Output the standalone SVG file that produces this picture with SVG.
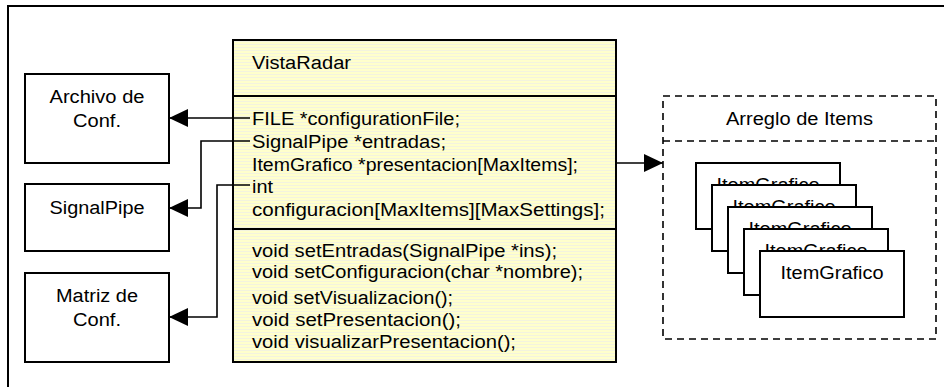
<svg xmlns="http://www.w3.org/2000/svg" width="944" height="387" viewBox="0 0 944 387">
<defs>
<pattern id="stripes" x="0" y="0" width="6" height="3" patternUnits="userSpaceOnUse">
<rect width="6" height="3" fill="#FFFFCC"/>
<rect y="2" width="6" height="1" fill="#F3F3DF"/>
</pattern>
<marker id="arr" viewBox="0 0 19 18" refX="19" refY="9" markerWidth="19" markerHeight="18" markerUnits="userSpaceOnUse" orient="auto">
<path d="M0,0 L19,9 L0,18 Z" fill="#000"/>
</marker>
</defs>
<style>
text{font-family:"Liberation Sans",Arial,sans-serif;font-size:18px;fill:#000}
.c{text-anchor:middle}
.box{fill:#fff;stroke:#000;stroke-width:2}
.cls{fill:url(#stripes);stroke:#000;stroke-width:2}
.sep{stroke:#000;stroke-width:2;fill:none}
.dash{fill:none;stroke:#000;stroke-width:1.6;stroke-dasharray:7 5}
.con{fill:none;stroke:#000;stroke-width:1.6}
</style>
<rect x="8" y="6" width="1000" height="500" fill="#fff" stroke="#000" stroke-width="2"/>

<g id="archivo">
<rect class="box" x="25" y="74" width="144" height="89"/>
<text class="c" x="97" y="103" textLength="95" lengthAdjust="spacingAndGlyphs">Archivo de</text>
<text class="c" x="97" y="127" textLength="48" lengthAdjust="spacingAndGlyphs">Conf.</text>
</g>
<g id="signalpipe">
<rect class="box" x="25" y="184" width="144" height="67"/>
<text class="c" x="97" y="214" textLength="95" lengthAdjust="spacingAndGlyphs">SignalPipe</text>
</g>
<g id="matriz">
<rect class="box" x="25" y="273" width="144" height="89"/>
<text class="c" x="97" y="302" textLength="82" lengthAdjust="spacingAndGlyphs">Matriz de</text>
<text class="c" x="97" y="326" textLength="48" lengthAdjust="spacingAndGlyphs">Conf.</text>
</g>

<g id="vistaradar">
<rect class="cls" x="233" y="40" width="383" height="322"/>
<line class="sep" x1="233" y1="96" x2="616" y2="96"/>
<line class="sep" x1="233" y1="229" x2="616" y2="229"/>
<text x="252" y="69" textLength="99" lengthAdjust="spacingAndGlyphs">VistaRadar</text>
<text x="252" y="125" textLength="208" lengthAdjust="spacingAndGlyphs">FILE *configurationFile;</text>
<text x="252" y="148" textLength="194" lengthAdjust="spacingAndGlyphs">SignalPipe *entradas;</text>
<text x="252" y="170.5" textLength="326" lengthAdjust="spacingAndGlyphs">ItemGrafico *presentacion[MaxItems];</text>
<text x="252" y="193" textLength="21" lengthAdjust="spacingAndGlyphs">int</text>
<text x="252" y="216" textLength="353" lengthAdjust="spacingAndGlyphs">configuracion[MaxItems][MaxSettings];</text>
<text x="252" y="257" textLength="305" lengthAdjust="spacingAndGlyphs">void setEntradas(SignalPipe *ins);</text>
<text x="252" y="278" textLength="331" lengthAdjust="spacingAndGlyphs">void setConfiguracion(char *nombre);</text>
<text x="252" y="304" textLength="201" lengthAdjust="spacingAndGlyphs">void setVisualizacion();</text>
<text x="252" y="326" textLength="209" lengthAdjust="spacingAndGlyphs">void setPresentacion();</text>
<text x="252" y="348" textLength="264" lengthAdjust="spacingAndGlyphs">void visualizarPresentacion();</text>
</g>

<g id="arreglo">
<rect class="dash" x="663" y="96" width="273" height="243"/>
<line class="dash" x1="663" y1="141" x2="936" y2="141"/>
<text class="c" x="799.5" y="125" textLength="147" lengthAdjust="spacingAndGlyphs">Arreglo de Items</text>
</g>
<g id="item1">
<rect class="box" x="696" y="163" width="144" height="66"/>
<text class="c" x="768" y="191" textLength="103" lengthAdjust="spacingAndGlyphs">ItemGrafico</text>
</g>
<g id="item2">
<rect class="box" x="712" y="185" width="144" height="66"/>
<text class="c" x="784" y="213" textLength="103" lengthAdjust="spacingAndGlyphs">ItemGrafico</text>
</g>
<g id="item3">
<rect class="box" x="728" y="207" width="144" height="66"/>
<text class="c" x="800" y="235" textLength="103" lengthAdjust="spacingAndGlyphs">ItemGrafico</text>
</g>
<g id="item4">
<rect class="box" x="744" y="229" width="144" height="66"/>
<text class="c" x="816" y="257" textLength="103" lengthAdjust="spacingAndGlyphs">ItemGrafico</text>
</g>
<g id="item5">
<rect class="box" x="760" y="251" width="144" height="66"/>
<text class="c" x="832" y="279" textLength="103" lengthAdjust="spacingAndGlyphs">ItemGrafico</text>
</g>

<g id="connectors">
<path class="con" d="M250,118 H169" marker-end="url(#arr)"/>
<path class="con" d="M250,141 H201 V208 H169" marker-end="url(#arr)"/>
<path class="con" d="M250,185 H217 V317 H169" marker-end="url(#arr)"/>
<path class="con" d="M616,163 H663" marker-end="url(#arr)"/>
</g>
</svg>
